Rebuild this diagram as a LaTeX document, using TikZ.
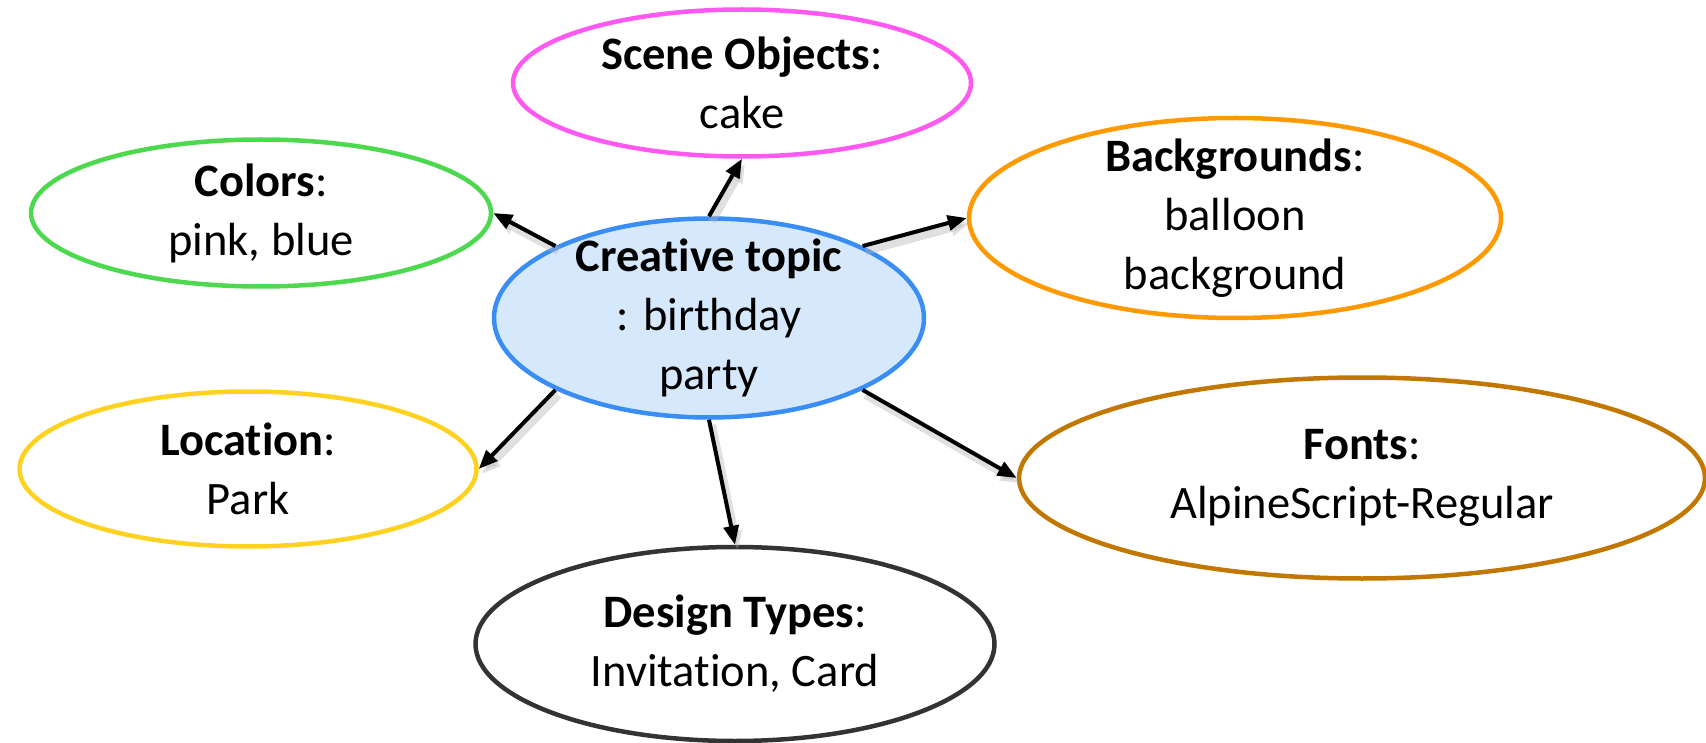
\documentclass[tikz,border=0pt]{standalone}
\usepackage{fontspec}
\setmainfont{Carlito}[Ligatures={NoCommon,NoContextual,NoRare},Contextuals=NoAlternate]
\usetikzlibrary{shapes.geometric,arrows.meta}
\definecolor{topicblue}{HTML}{3A8DF5}
\definecolor{topicfill}{HTML}{D6E8FC}
\definecolor{scenepink}{HTML}{FF59F2}
\definecolor{colorgreen}{HTML}{4CD94E}
\definecolor{bgorange}{HTML}{FF9900}
\definecolor{locyellow}{HTML}{FFD220}
\definecolor{fontbrown}{HTML}{C27800}
\definecolor{designgray}{HTML}{333333}

\begin{document}
\begin{tikzpicture}[x=1pt,y=-1pt,
  bubble/.style={ellipse, draw, line width=4.5pt, inner sep=-20pt, align=center, font=\fontsize{46.5}{59}\selectfont},
  link/.style={line width=4pt, -{Triangle[length=19pt 0, width=15pt 0]},
    preaction={draw=black!30, line width=8pt, opacity=.4, transform canvas={shift={(3pt,-5pt)}}}}]
\useasboundingbox (0,0) rectangle (1706,743);
\node[bubble, draw=topicblue, fill=topicfill, minimum width=430pt, minimum height=199pt] (topic) at (709,318) {\textbf{Creative topic}\\: birthday\\party};
\node[bubble, draw=scenepink, minimum width=458pt, minimum height=147pt] (scene) at (742,83) {\textbf{Scene Objects}:\\cake};
\node[bubble, draw=colorgreen, minimum width=460pt, minimum height=147pt] (colors) at (261,213) {\textbf{Colors}:\\pink, blue};
\node[bubble, draw=bgorange, minimum width=532pt, minimum height=200pt] (backgrounds) at (1235,218) {\textbf{Backgrounds}:\\balloon\\background};
\node[bubble, draw=locyellow, minimum width=457pt, minimum height=155pt] (location) at (248,469) {\textbf{Location}:\\Park};
\node[bubble, draw=fontbrown, minimum width=686pt, minimum height=201pt] (fonts) at (1362,478) {\textbf{Fonts}:\\AlpineScript-Regular};
\node[bubble, draw=designgray, minimum width=519pt, minimum height=194pt] (design) at (735,644) {\textbf{Design Types}:\\Invitation, Card};
\draw[link] (topic.north) -- (scene.south);
\draw[link] (topic.north west) -- (colors.east);
\draw[link] (topic.north east) -- (backgrounds.west);
\draw[link] (topic.south west) -- (location.east);
\draw[link] (topic.south) -- (design.north);
\draw[link] (topic.south east) -- (fonts.west);
\end{tikzpicture}
\end{document}
